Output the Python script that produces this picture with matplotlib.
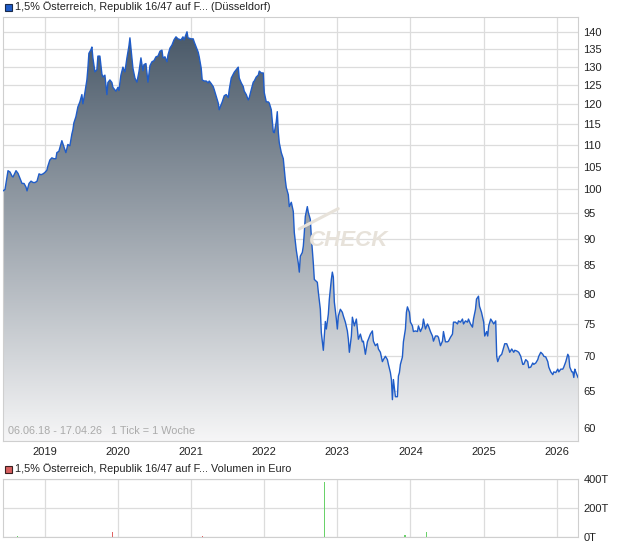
import numpy as np
import pandas as pd
import matplotlib
matplotlib.use('Agg')
from matplotlib import pyplot as plt
from matplotlib.colors import LinearSegmentedColormap
from matplotlib.patches import Rectangle
from matplotlib.ticker import NullLocator

plt.rcParams['font.family'] = ['Liberation Sans', 'DejaVu Sans']

# weekly closing prices, day of year + price, one pair of lists per year
days_2018 = [157, 167, 177, 182, 192, 202, 207, 222, 232, 242, 252, 262, 272, 277, 287, 297, 307, 317, 327, 337, 347, 357]
price_2018 = [99.7, 100.0, 102.7, 104.1, 103.8, 102.9, 102.7, 104.1, 103.5, 102.4, 101.3, 101.3, 100.5, 99.7, 101.3, 101.8,
              101.5, 101.5, 101.8, 103.4, 103.2, 103.4]

days_2019 = [1, 11, 16, 26, 36, 46, 56, 61, 71, 81, 86, 96, 106, 116, 126, 136, 141, 146, 156, 166, 176, 186, 191, 201,
             211, 216, 221, 231, 236, 241, 251, 261, 266, 276, 286, 291, 301, 311, 316, 326, 336, 341, 356]
price_2019 = [103.7, 104.2, 105.1, 106.5, 107.0, 106.8, 106.8, 108.2, 108.5, 110.1, 111.0, 109.6, 108.2, 110.1, 109.8,
              112.6, 113.6, 115.3, 116.8, 119.3, 120.6, 122.5, 120.1, 123.0, 126.4, 129.6, 133.8, 134.8, 135.6, 132.5,
              128.6, 129.2, 133.0, 133.0, 128.0, 127.2, 127.7, 122.5, 125.7, 126.4, 125.7, 124.4, 123.4]

days_2020 = [1, 6, 16, 26, 36, 46, 56, 61, 71, 76, 86, 96, 106, 116, 126, 131, 141, 151, 161, 171, 181, 191, 201, 211,
             221, 226, 236, 246, 251, 261, 271, 281, 291, 301, 316, 326, 331, 346, 351]
price_2020 = [124.4, 123.6, 127.7, 129.9, 128.6, 132.5, 135.9, 138.3, 132.5, 129.6, 126.9, 125.8, 128.6, 132.5, 128.9,
              130.6, 130.9, 125.8, 130.3, 131.4, 131.7, 132.8, 133.0, 134.4, 134.7, 132.5, 132.8, 131.4, 133.3, 135.3,
              136.2, 137.7, 138.6, 138.0, 137.7, 138.6, 137.7, 140.1, 138.3]

days_2021 = [1, 11, 16, 26, 36, 41, 51, 56, 66, 76, 86, 91, 101, 111, 116, 126, 136, 141, 146, 156, 166, 176, 186, 191,
             201, 211, 216, 226, 236, 241, 251, 261, 266, 276, 286, 291, 301, 311, 316, 326, 336, 341, 351, 361]
price_2021 = [138.0, 138.0, 137.1, 135.6, 134.1, 132.8, 129.6, 126.4, 126.1, 126.1, 125.6, 126.1, 125.4, 124.6, 123.8,
              122.0, 120.3, 118.6, 119.3, 120.6, 122.2, 122.5, 121.7, 123.8, 126.9, 128.0, 128.5, 129.2, 129.9, 126.9,
              125.6, 124.6, 123.4, 122.5, 121.1, 121.7, 123.8, 125.8, 126.1, 127.2, 127.7, 128.8, 128.3, 128.3]

days_2022 = [1, 11, 21, 26, 36, 46, 51, 61, 66, 71, 76, 86, 96, 101, 106, 111, 121, 126, 136, 146, 151, 161, 171, 176,
             181, 191, 196, 201, 206, 216, 221, 231, 236, 246, 251, 266, 271, 281, 286, 296, 306, 311, 321, 326, 336,
             341, 346, 351, 361]
price_2022 = [123.0, 120.6, 120.6, 120.3, 118.6, 113.1, 112.9, 115.6, 118.1, 113.1, 110.5, 108.2, 106.8, 104.3, 102.1,
              100.4, 98.9, 96.4, 97.3, 95.4, 91.2, 87.8, 85.4, 83.8, 86.7, 87.4, 88.6, 91.2, 94.4, 96.4, 95.2, 93.8,
              90.4, 85.4, 82.5, 82.0, 80.3, 77.4, 73.6, 70.9, 75.4, 74.2, 76.6, 79.1, 82.5, 83.8, 82.9, 78.6, 75.8]

days_2023 = [1, 6, 16, 26, 31, 41, 51, 56, 61, 71, 76, 86, 96, 101, 106, 116, 126, 131, 141, 151, 156, 166, 176, 181,
             191, 201, 206, 216, 226, 231, 241, 251, 256, 266, 271, 276, 281, 291, 301, 306, 311, 316, 326, 331, 341,
             346, 351, 361]
price_2023 = [74.2, 76.3, 77.4, 76.9, 76.3, 75.3, 73.9, 72.6, 70.6, 73.1, 76.1, 74.7, 75.8, 74.2, 72.6, 73.4, 72.2,
              72.3, 70.3, 72.2, 72.6, 73.4, 73.9, 72.3, 71.6, 71.9, 71.1, 70.6, 69.2, 69.5, 70.0, 69.5, 68.8, 67.6,
              66.6, 63.8, 66.6, 64.2, 64.2, 67.1, 67.6, 68.8, 69.9, 72.2, 74.2, 76.9, 77.8, 76.9]

days_2024 = [1, 11, 16, 26, 36, 41, 51, 61, 66, 76, 86, 91, 101, 111, 116, 126, 136, 141, 151, 161, 166, 176, 186, 191,
             201, 211, 216, 226, 236, 241, 251, 261, 266, 276, 286, 291, 301, 311, 316, 326, 331, 341, 346, 356]
price_2024 = [75.3, 74.7, 73.8, 73.9, 73.8, 74.7, 73.8, 74.5, 75.8, 74.2, 75.0, 74.7, 73.8, 73.1, 72.3, 73.1, 73.1,
              72.9, 71.6, 72.3, 73.8, 72.2, 72.2, 72.3, 72.9, 73.4, 75.3, 75.3, 75.0, 75.5, 75.3, 75.8, 75.0, 75.5,
              75.3, 75.8, 75.0, 74.5, 75.8, 77.4, 79.1, 79.6, 77.9, 76.9]

days_2025 = [1, 6, 16, 21, 26, 36, 46, 51, 61, 66, 71, 81, 91, 101, 106, 116, 126, 131, 141, 151, 156, 166, 176, 186,
             196, 201, 211, 221, 226, 236, 246, 251, 261, 271, 276, 286, 296, 301, 311, 321, 326, 336, 346, 351, 361]
price_2025 = [75.3, 73.1, 73.8, 73.1, 74.7, 75.8, 75.3, 75.0, 75.5, 70.0, 69.2, 70.0, 70.3, 71.4, 71.9, 71.9, 71.1,
              70.6, 71.1, 70.6, 70.9, 70.8, 70.6, 70.0, 68.8, 68.8, 69.5, 69.2, 68.3, 68.4, 69.0, 68.8, 69.0, 69.5,
              70.0, 70.6, 70.3, 70.0, 69.9, 69.2, 68.4, 67.7, 67.3, 67.7, 67.6]

days_2026 = [6, 11, 21, 31, 36, 46, 56, 61, 66, 76, 81, 86, 91, 96, 107]
price_2026 = [68.1, 67.7, 68.1, 68.1, 68.4, 69.2, 70.3, 70.0, 68.4, 67.7, 67.7, 66.9, 68.1, 67.7, 66.9]

# turnover in thousand euro (T); green = up week, red = down week
vol_dates = ['2018-08-19', '2018-10-17', '2018-12-15', '2019-12-06', '2021-02-27', '2022-10-28', '2023-12-05', '2024-03-21']
vol_values = [4, 3, 3, 36, 10, 380, 12, 33]
vol_up = [True, True, False, False, False, True, True, True]

years = ['2019', '2020', '2021', '2022', '2023', '2024', '2025', '2026']
price_ticks = [60, 65, 70, 75, 80, 85, 90, 95, 100, 105, 110, 115, 120, 125, 130, 135, 140]
vol_ticks = [0, 200, 400]
vol_labels = ['0T', '200T', '400T']

title = '1,5% Österreich, Republik 16/47 auf F...'

yearly = [(2018, days_2018, price_2018), (2019, days_2019, price_2019), (2020, days_2020, price_2020),
          (2021, days_2021, price_2021), (2022, days_2022, price_2022), (2023, days_2023, price_2023),
          (2024, days_2024, price_2024), (2025, days_2025, price_2025), (2026, days_2026, price_2026)]
date_str, prices = [], []
for y, dd, pp in yearly:
    date_str += [f'{y}-{d:03d}' for d in dd]
    prices += pp
dates = pd.to_datetime(date_str, format='%Y-%j')
prices = np.array(prices)

W, H = 620, 546
fig = plt.figure(figsize=(W / 100, H / 100), dpi=100)
ax = fig.add_axes([3 / W, 1 - 441 / H, 575 / W, 424 / H])
vax = fig.add_axes([3 / W, 1 - 537 / H, 575 / W, 58 / H])

x0, x1 = pd.Timestamp('2018-06-06'), pd.Timestamp('2026-04-17')
ymin, ymax = 58.4, 144.6
grid_c = '#dcdcdc'
spine_c = '#cfcfcf'

# price panel
ax.plot(dates, prices, color='#1f5cc8', lw=1.0, zorder=3)
poly = ax.fill_between(dates, prices, ymin, facecolor='none', edgecolor='none')
cmap = LinearSegmentedColormap.from_list('fade', ['#f6f6f7', '#435363'])
grad = np.linspace(0, 1, 256).reshape(-1, 1)
img = ax.imshow(grad, cmap=cmap, aspect='auto', extent=[0, 1, 0, 1], origin='lower',
                transform=ax.transAxes, zorder=2, interpolation='bilinear')
ax.set_yscale('log')
img.set_clip_path(poly.get_paths()[0], transform=ax.transData)
ax.set_xlim(x0, x1)
ax.set_ylim(ymin, ymax)

ax.yaxis.tick_right()
ax.set_yticks(price_ticks, labels=[str(t) for t in price_ticks])
ax.yaxis.set_minor_locator(NullLocator())
ax.set_xticks(pd.to_datetime([y + '-01-01' for y in years]), labels=years)
ax.tick_params(length=0, labelsize=8, colors='#222222', pad=4)
ax.grid(True, color=grid_c, lw=0.9)
ax.set_axisbelow(True)
for s in ax.spines.values():
    s.set_color(spine_c)

ax.text(0.009, 0.012, '06.06.18 - 17.04.26   1 Tick = 1 Woche', transform=ax.transAxes,
        color='#aaaaaa', fontsize=7.8, va='bottom', ha='left', zorder=5)
ax.text(0.532, 0.474, 'CHECK', transform=ax.transAxes, color='#e7e2da', fontsize=16,
        fontstyle='italic', fontweight='bold', va='center', ha='left', zorder=4)
ax.plot([0.515, 0.583], [0.5, 0.548], transform=ax.transAxes, color='#e7e2da', lw=2.2, zorder=4,
        solid_capstyle='round')

# volume panel
vax.bar(pd.to_datetime(vol_dates), vol_values, width=6,
        color=['#6ad26a' if u else '#e06464' for u in vol_up], zorder=3)
vax.set_xlim(x0, x1)
vax.set_ylim(0, 400)
vax.yaxis.tick_right()
vax.set_yticks(vol_ticks, labels=vol_labels)
vax.set_xticks(pd.to_datetime([y + '-01-01' for y in years]), labels=[])
vax.tick_params(length=0, labelsize=8, colors='#222222', pad=4)
vax.grid(True, color=grid_c, lw=0.9)
vax.set_axisbelow(True)
for s in vax.spines.values():
    s.set_color(spine_c)

# panel headers with coloured squares
fig.add_artist(Rectangle((5 / W, 1 - 11 / H), 7 / W, 7 / H, transform=fig.transFigure,
                         facecolor='#1f5cc8', edgecolor='#1a2a4a', lw=0.8))
fig.text(15 / W, 1 - 7 / H, title + ' (Düsseldorf)', fontsize=7.8, va='center', ha='left', color='#222222')
fig.add_artist(Rectangle((5 / W, 1 - 473 / H), 7 / W, 7 / H, transform=fig.transFigure,
                         facecolor='#d86060', edgecolor='#3a2020', lw=0.8))
fig.text(15 / W, 1 - 469 / H, title + ' Volumen in Euro', fontsize=7.8, va='center', ha='left', color='#222222')

fig.savefig('out.png', dpi=100)
